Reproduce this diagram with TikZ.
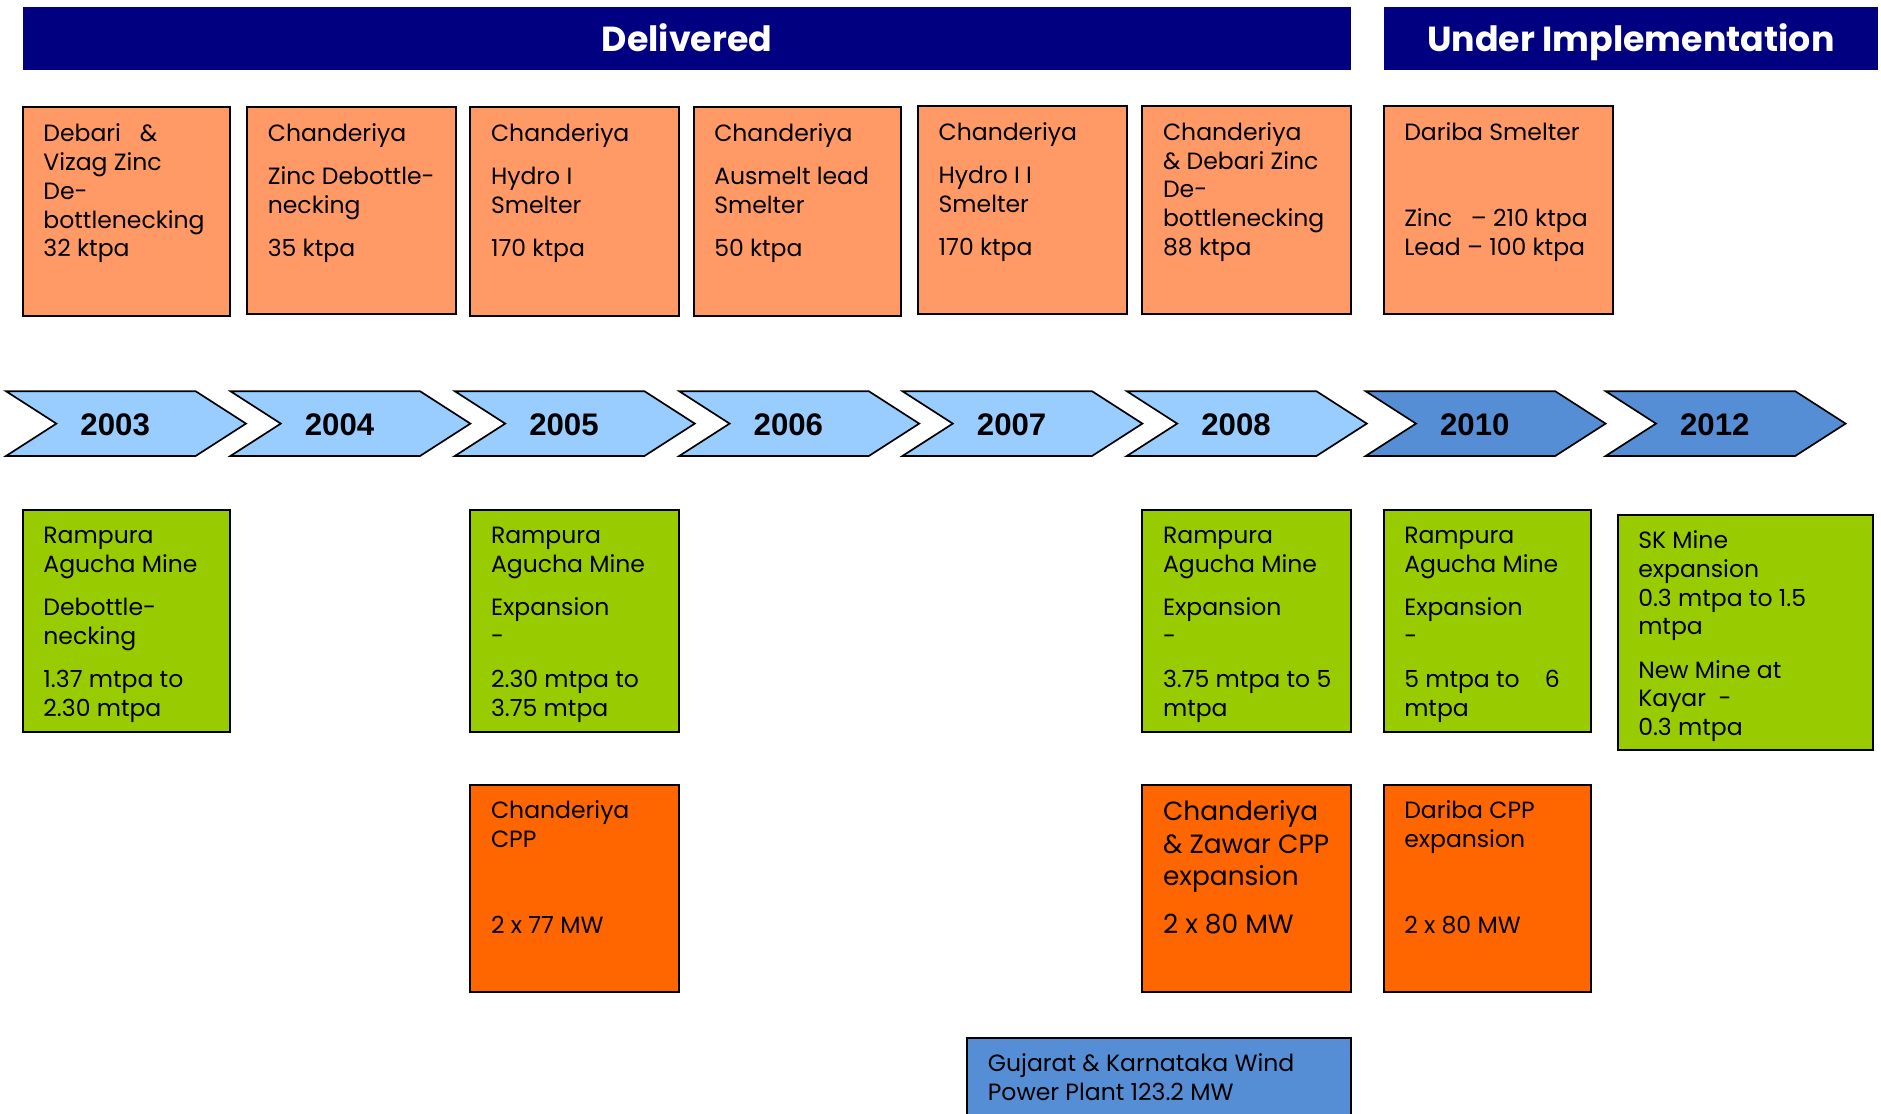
\documentclass[tikz,border=0pt]{standalone}
\usepackage{fontspec}
\setmainfont{Poppins}
\newfontfamily\yearfont{Liberation Sans}
\usetikzlibrary{calc}
\definecolor{navy}{HTML}{000080}
\definecolor{lorange}{HTML}{FF9966}
\definecolor{dorange}{HTML}{FF6600}
\definecolor{lgreen}{HTML}{99CC00}
\definecolor{lblue}{HTML}{99CCFF}
\definecolor{mblue}{HTML}{558ED5}
\newcommand\lns[1]{\parbox[t]{400pt}{#1}}
\tikzset{
  card/.style={draw=black, line width=1.8pt, anchor=north west, inner sep=0pt, outer sep=0pt},
  txt/.style={anchor=base west, inner sep=0pt, font=\fontsize{19.6}{24}\selectfont},
  bigtxt/.style={anchor=base west, inner sep=0pt, font=\fontsize{22}{27}\selectfont},
  banner/.style={fill=navy, anchor=north west, inner sep=0pt, outer sep=0pt, text=white,
    font=\fontsize{29}{34}\selectfont\bfseries, text height=22pt, text depth=0pt},
  chev/.style={draw=black, line width=1.4pt, line join=miter},
  yeartxt/.style={anchor=base, inner sep=0pt, font=\yearfont\fontsize{26}{30}\selectfont\bfseries}
}
\begin{document}
\begin{tikzpicture}[x=1pt,y=-1pt]
\useasboundingbox (0,0) rectangle (1567.5,928.3);
\clip (0,0) rectangle (1567.5,928.3);

% banners
\node[banner, minimum width=1107pt, minimum height=52pt] (del) at (19,6) {Delivered};
\node[banner, minimum width=412pt, minimum height=52pt] (und) at (1153,6) {Under Implementation};

% top boxes
\node[card, fill=lorange, minimum width=173pt, minimum height=174pt] (d1) at (19,89) {};
\node[card, fill=lorange, minimum width=174pt, minimum height=173pt] (d2) at (206,89) {};
\node[card, fill=lorange, minimum width=174pt, minimum height=174pt] (d3) at (392,89) {};
\node[card, fill=lorange, minimum width=173pt, minimum height=174pt] (d4) at (578,89) {};
\node[card, fill=lorange, minimum width=174pt, minimum height=174pt] (d5) at (765,88) {};
\node[card, fill=lorange, minimum width=174pt, minimum height=174pt] (d6) at (952,88) {};
\node[card, fill=lorange, minimum width=191pt, minimum height=174pt] (d7) at (1153,88) {};

\node[txt] (t1) at ($(d1.north west)+(17,29)$) {\lns{Debari\ \ \ \&\\Vizag Zinc\\De-\\bottlenecking\\32 ktpa}};
\node[txt] (t2) at ($(d2.north west)+(17,29)$) {\lns{Chanderiya\\[12pt]Zinc Debottle-\\necking\\[12pt]35 ktpa}};
\node[txt] (t3) at ($(d3.north west)+(17,29)$) {\lns{Chanderiya\\[12pt]Hydro I\\Smelter\\[12pt]170 ktpa}};
\node[txt] (t4) at ($(d4.north west)+(17,29)$) {\lns{Chanderiya\\[12pt]Ausmelt lead\\Smelter\\[12pt]50 ktpa}};
\node[txt] (t5) at ($(d5.north west)+(17,29)$) {\lns{Chanderiya\\[12pt]Hydro I I\\Smelter\\[12pt]170 ktpa}};
\node[txt] (t6) at ($(d6.north west)+(17,29)$) {\lns{Chanderiya\\\& Debari Zinc\\De-\\bottlenecking\\88 ktpa}};
\node[txt] (t7) at ($(d7.north west)+(17,29)$) {\lns{Dariba Smelter\\[48pt]Zinc\ \ \ – 210 ktpa\\Lead – 100 ktpa}};

% chevrons
\foreach \s/\yr/\c in {5/2003/lblue,192/2004/lblue,379/2005/lblue,566/2006/lblue,752/2007/lblue,939/2008/lblue,1138/2010/mblue,1338/2012/mblue}{
  \draw[chev, fill=\c] (\s,326) -- ++(158,0) -- ++(42,27) -- ++(-42,27) -- ++(-158,0) -- ++(42,-27) -- cycle;
  \node[yeartxt] (y\yr) at (\s+91,362.5) {\yr};
}

% green boxes
\node[card, fill=lgreen, minimum width=173pt, minimum height=185pt] (g1) at (19,425) {};
\node[card, fill=lgreen, minimum width=174pt, minimum height=185pt] (g2) at (392,425) {};
\node[card, fill=lgreen, minimum width=174pt, minimum height=185pt] (g3) at (952,425) {};
\node[card, fill=lgreen, minimum width=173pt, minimum height=185pt] (g4) at (1153,425) {};
\node[card, fill=lgreen, minimum width=213pt, minimum height=196pt] (g5) at (1348,429) {};

\node[txt] (gt1) at ($(g1.north west)+(17,28)$) {\lns{Rampura\\Agucha Mine\\[12pt]Debottle-\\necking\\[12pt]1.37 mtpa to\\2.30 mtpa}};
\node[txt] (gt2) at ($(g2.north west)+(17,28)$) {\lns{Rampura\\Agucha Mine\\[12pt]Expansion\\-\\[12pt]2.30 mtpa to\\3.75 mtpa}};
\node[txt] (gt3) at ($(g3.north west)+(17,28)$) {\lns{Rampura\\Agucha Mine\\[12pt]Expansion\\-\\[12pt]3.75 mtpa to 5\\mtpa}};
\node[txt] (gt4) at ($(g4.north west)+(17,28)$) {\lns{Rampura\\Agucha Mine\\[12pt]Expansion\\-\\[12pt]5 mtpa to\ \ \ \ 6\\mtpa}};
\node[txt] (gt5) at ($(g5.north west)+(17,28)$) {\lns{SK Mine\\expansion\\0.3 mtpa to 1.5\\mtpa\\[12pt]New Mine at\\Kayar\ \ -\\0.3 mtpa}};

% orange CPP boxes
\node[card, fill=dorange, minimum width=174pt, minimum height=173pt] (o1) at (392,654) {};
\node[card, fill=dorange, minimum width=174pt, minimum height=173pt] (o2) at (952,654) {};
\node[card, fill=dorange, minimum width=173pt, minimum height=173pt] (o3) at (1153,654) {};

\node[txt] (ot1) at ($(o1.north west)+(17,28)$) {\lns{Chanderiya\\CPP\\[48pt]2 x 77 MW}};
\node[bigtxt] (ot2) at ($(o2.north west)+(17,30)$) {\lns{Chanderiya\\\& Zawar CPP\\expansion\\[13pt]2 x 80 MW}};
\node[txt] (ot3) at ($(o3.north west)+(17,28)$) {\lns{Dariba CPP\\expansion\\[48pt]2 x 80 MW}};

% wind box
\node[card, fill=mblue, minimum width=320pt, minimum height=90pt] (w1) at (806,865) {};
\node[txt] (wt1) at ($(w1.north west)+(17,28)$) {\lns{Gujarat \& Karnataka Wind\\Power Plant 123.2 MW}};
\end{tikzpicture}
\end{document}
